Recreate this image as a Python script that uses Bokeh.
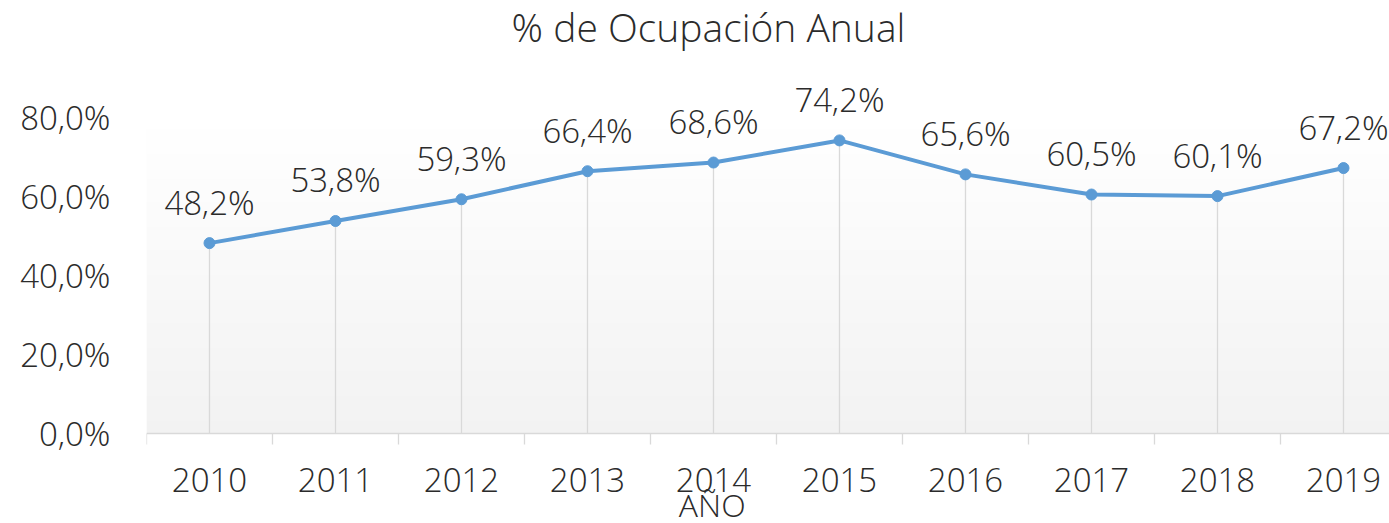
import numpy as np
from bokeh.plotting import figure
from bokeh.models import Range1d, FixedTicker, Label, ColumnDataSource
from bokeh.core.properties import value
from bokeh.embed import file_html
from bokeh.resources import INLINE

# ---- data ----
years = ["2010", "2011", "2012", "2013", "2014", "2015", "2016", "2017", "2018", "2019"]
occupancy = [48.2, 53.8, 59.3, 66.4, 68.6, 74.2, 65.6, 60.5, 60.1, 67.2]
y_ticks = [0, 20, 40, 60, 80]
y_tick_labels = ["0,0%", "20,0%", "40,0%", "60,0%", "80,0%"]
title_text = "% de Ocupación Anual"
x_title = "AÑO"

# ---- style ----
FONT = "Open Sans Light"
TEXT = "#2b2b2b"
LINE = "#5b9bd5"
GREY = "#d9d9d9"
FS = "33px"

W, H = 1389, 523
LEFT = 146
AXIS_Y = 433          # pixel row of the category axis
frame_w = W - LEFT
cat_px = 126.0
px_per_unit = 3.95
x_end = -0.5 + frame_w / cat_px
y_start = -(H - AXIS_Y) / px_per_unit
y_end = AXIS_Y / px_per_unit

idx = list(range(len(years)))
labels = [f"{v:.1f}".replace(".", ",") + "%" for v in occupancy]
src = ColumnDataSource(dict(x=idx, y=occupancy, label=labels))

p = figure(width=W, height=H, output_backend="svg", toolbar_location=None,
           x_range=Range1d(-0.5, x_end), y_range=Range1d(y_start, y_end),
           min_border_left=LEFT, min_border_right=0, min_border_top=0,
           min_border_bottom=0)
p.outline_line_color = None
p.grid.visible = False
p.background_fill_color = "white"
p.border_fill_color = "white"

# plot-area gradient (white at top -> light grey at bottom)
n = 256
t = np.linspace(0.0, 1.0, n)
g = np.round(242 + 13 * t).astype(np.uint8)
img = np.empty((n, 1), dtype=np.uint32)
view = img.view(dtype=np.uint8).reshape((n, 1, 4))
view[:, 0, 0] = g
view[:, 0, 1] = g
view[:, 0, 2] = g
view[:, 0, 3] = 255
p.image_rgba(image=[img], x=-0.5, y=0, dw=len(years), dh=y_ticks[-1])

# drop lines
p.segment(x0="x", y0=0, x1="x", y1="y", source=src, line_color=GREY, line_width=1.3)
# series
p.line("x", "y", source=src, line_color=LINE, line_width=4)
p.scatter("x", "y", source=src, size=11, fill_color=LINE, line_color=LINE)
# data labels
p.text("x", "y", text="label", source=src, text_font=value(FONT),
       text_font_size=FS, text_color=TEXT, text_align="center",
       text_baseline="alphabetic", y_offset=-41)

# x axis (category axis sits at 0 %)
xa = p.xaxis[0]
xa.fixed_location = 0
xa.ticker = FixedTicker(ticks=idx, minor_ticks=[i - 0.5 for i in range(len(years) + 1)])
xa.major_label_overrides = {i: y for i, y in enumerate(years)}
xa.major_tick_out = 0
xa.major_tick_in = 0
xa.minor_tick_out = 11
xa.minor_tick_in = 0
xa.minor_tick_line_color = GREY
xa.minor_tick_line_width = 1.3
xa.axis_line_color = GREY
xa.axis_line_width = 1.3
xa.major_label_standoff = 23
xa.major_label_text_font = FONT
xa.major_label_text_font_size = FS
xa.major_label_text_color = TEXT

# y axis
ya = p.yaxis[0]
ya.ticker = FixedTicker(ticks=y_ticks)
ya.major_label_overrides = {v: s for v, s in zip(y_ticks, y_tick_labels)}
ya.axis_line_color = None
ya.major_tick_line_color = None
ya.minor_tick_line_color = None
ya.major_tick_out = 0
ya.major_tick_in = 0
ya.major_label_standoff = 36
ya.major_label_text_font = FONT
ya.major_label_text_font_size = FS
ya.major_label_text_color = TEXT

# title and axis title
p.add_layout(Label(x=3.96, y=103.0, text=title_text, text_font=FONT,
                   text_font_size="39px", text_color=TEXT,
                   text_align="center", text_baseline="alphabetic"))
p.add_layout(Label(x=3.99, y=-17.9, text=x_title, text_font=FONT,
                   text_font_size="32px", text_color=TEXT,
                   text_align="center", text_baseline="alphabetic"))

open("out.html", "w").write(file_html(p, INLINE))
